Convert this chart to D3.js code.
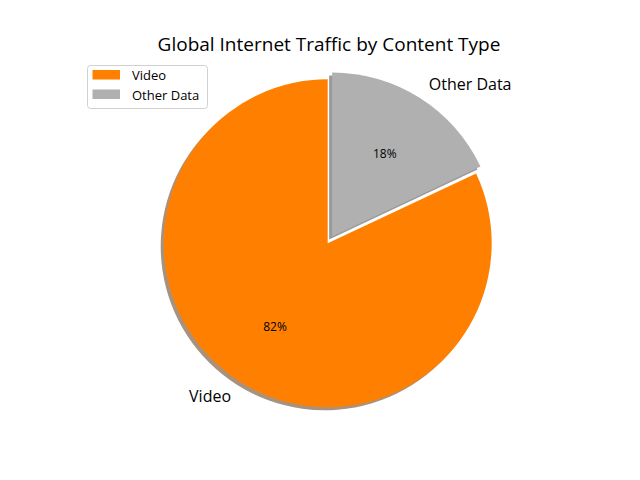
<!DOCTYPE html>
<html>
<head>
<meta charset="utf-8">
<script src="https://cdn.jsdelivr.net/npm/d3@7"></script>
<style>
  html, body { margin: 0; padding: 0; background: #fff; }
  svg { display: block; }
  text { font-family: "Open Sans", "Noto Sans", sans-serif; fill: #000; }
</style>
</head>
<body>
<svg id="chart" width="640" height="480"></svg>
<script>
const title = "Global Internet Traffic by Content Type";
const categories = ["Video", "Other Data"];
const values = [82, 18];
const colors = ["#ff8000", "#b0b0b0"];
const explode = [0, 0.05];

const svg = d3.select("#chart");
const cx = 327.7, cy = 243.3, r = 164;
const shadowOff = 3;

const pie = d3.pie().sort(null).value(d => d.value)
  .startAngle(0).endAngle(-2 * Math.PI);
const data = categories.map((c, i) => ({ name: c, value: values[i], color: colors[i], explode: explode[i] }));
const arcs = pie(data);
const arc = d3.arc().innerRadius(0).outerRadius(r);

const total = d3.sum(values);
function offsetFor(a, dist) {
  const m = (a.startAngle + a.endAngle) / 2;
  return [Math.sin(m) * dist, -Math.cos(m) * dist];
}

const g = svg.append("g").attr("transform", `translate(${cx},${cy})`);

function darken(c) {
  const col = d3.rgb(c);
  return d3.rgb(col.r * 0.3, col.g * 0.3, col.b * 0.3);
}

// shadows
g.selectAll("path.shadow").data(arcs).enter().append("path")
  .attr("class", "shadow")
  .attr("d", arc)
  .attr("fill", d => darken(d.data.color))
  .attr("fill-opacity", 0.5)
  .attr("transform", d => {
    const o = offsetFor(d, d.data.explode * r);
    return `translate(${o[0] - shadowOff},${o[1] + shadowOff})`;
  });

// wedges
g.selectAll("path.wedge").data(arcs).enter().append("path")
  .attr("class", "wedge")
  .attr("d", arc)
  .attr("fill", d => d.data.color)
  .attr("transform", d => {
    const o = offsetFor(d, d.data.explode * r);
    return `translate(${o[0]},${o[1]})`;
  });

// outer labels
g.selectAll("text.lbl").data(arcs).enter().append("text")
  .attr("class", "lbl")
  .each(function(d) {
    const o = offsetFor(d, d.data.explode * r);
    const p = offsetFor(d, 1.1 * r);
    d3.select(this)
      .attr("x", o[0] + p[0])
      .attr("y", o[1] + p[1])
      .attr("text-anchor", p[0] > 0 ? "start" : "end")
      .attr("dominant-baseline", "central");
  })
  .style("font-size", "16px")
  .text(d => d.data.name);

// pct labels
g.selectAll("text.pct").data(arcs).enter().append("text")
  .attr("class", "pct")
  .each(function(d) {
    const o = offsetFor(d, d.data.explode * r);
    const p = offsetFor(d, 0.6 * r);
    d3.select(this)
      .attr("x", o[0] + p[0])
      .attr("y", o[1] + p[1])
      .attr("text-anchor", "middle")
      .attr("dominant-baseline", "central");
  })
  .style("font-size", "12px")
  .text(d => Math.round(d.data.value / total * 100) + "%");

// title
svg.append("text")
  .attr("x", 329).attr("y", 51)
  .attr("text-anchor", "middle")
  .style("font-size", "19px")
  .text(title);

// legend
const lg = svg.append("g").attr("transform", "translate(87.5,65.5)");
lg.append("rect")
  .attr("width", 120).attr("height", 43)
  .attr("rx", 3).attr("ry", 3)
  .attr("fill", "#fff").attr("fill-opacity", 0.8)
  .attr("stroke", "#d0d0d0").attr("stroke-width", 1);
const items = lg.selectAll("g.item").data(data).enter().append("g")
  .attr("class", "item")
  .attr("transform", (d, i) => `translate(5,${4.5 + i * 19.5})`);
items.append("rect")
  .attr("width", 27.5).attr("height", 9.5)
  .attr("fill", d => d.color);
items.append("text")
  .attr("x", 39.5).attr("y", 5)
  .attr("dominant-baseline", "central")
  .style("font-size", "13px")
  .text(d => d.name);
</script>
</body>
</html>
